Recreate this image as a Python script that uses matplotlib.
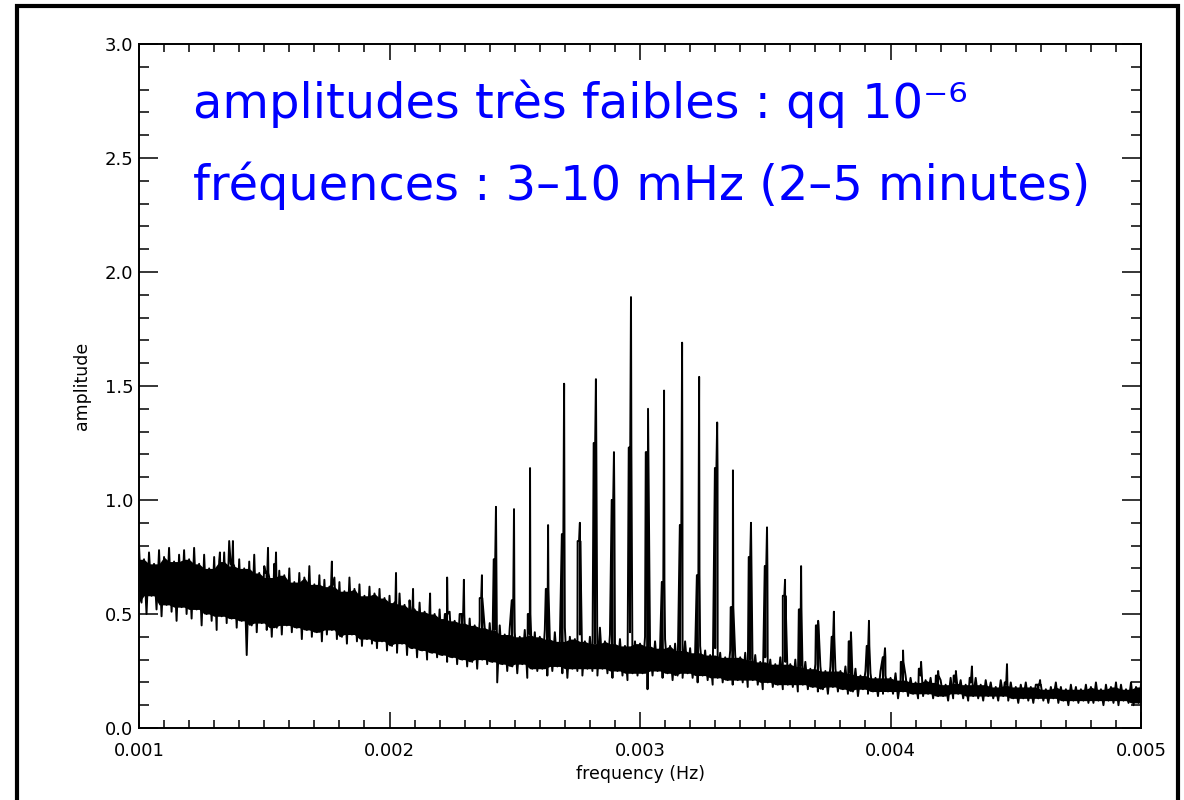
import numpy as np
import matplotlib.pyplot as plt
from matplotlib.patches import Rectangle
from matplotlib.ticker import MultipleLocator, FormatStrFormatter

# noise band of the spectrum, every 0.02 mHz (1.00 .. 5.00 mHz)
band_hi = [0.80, 0.74, 0.77, 0.72, 0.78, 0.75, 0.79, 0.73, 0.76, 0.78,
           0.74, 0.79, 0.72, 0.76, 0.70, 0.75, 0.73, 0.77, 0.82, 0.71,
           0.74, 0.70, 0.73, 0.76, 0.68, 0.71, 0.66, 0.72, 0.69, 0.67,
           0.70, 0.64, 0.68, 0.66, 0.71, 0.63, 0.67, 0.65, 0.62, 0.66,
           0.64, 0.60, 0.66, 0.61, 0.63, 0.58, 0.62, 0.59, 0.61, 0.57,
           0.58, 0.55, 0.59, 0.54, 0.56, 0.52, 0.55, 0.51, 0.53, 0.50,
           0.52, 0.48, 0.51, 0.47, 0.50, 0.46, 0.48, 0.45, 0.47, 0.44,
           0.46, 0.43, 0.45, 0.41, 0.44, 0.42, 0.40, 0.43, 0.41, 0.42,
           0.40, 0.43, 0.39, 0.42, 0.38, 0.44, 0.40, 0.39, 0.41, 0.38,
           0.40, 0.37, 0.44, 0.38, 0.41, 0.37, 0.39, 0.36, 0.42, 0.38,
           0.37, 0.40, 0.36, 0.38, 0.35, 0.39, 0.36, 0.37, 0.34, 0.38,
           0.35, 0.33, 0.36, 0.34, 0.32, 0.35, 0.33, 0.31, 0.34, 0.32,
           0.31, 0.33, 0.30, 0.32, 0.29, 0.31, 0.30, 0.28, 0.31, 0.29,
           0.28, 0.30, 0.27, 0.29, 0.26, 0.28, 0.27, 0.25, 0.27, 0.26,
           0.25, 0.27, 0.24, 0.26, 0.23, 0.25, 0.24, 0.22, 0.25, 0.23,
           0.22, 0.24, 0.21, 0.23, 0.22, 0.20, 0.23, 0.21, 0.22, 0.20,
           0.21, 0.19, 0.22, 0.20, 0.21, 0.19, 0.20, 0.22, 0.19, 0.21,
           0.20, 0.18, 0.21, 0.19, 0.20, 0.18, 0.19, 0.20, 0.18, 0.19,
           0.19, 0.17, 0.18, 0.20, 0.18, 0.17, 0.19, 0.18, 0.17, 0.19,
           0.18, 0.20, 0.17, 0.19, 0.18, 0.20, 0.19, 0.17, 0.20, 0.18,
           0.19]
band_lo = [0.55, 0.50, 0.58, 0.52, 0.49, 0.54, 0.51, 0.47, 0.53, 0.50,
           0.48, 0.52, 0.45, 0.50, 0.47, 0.43, 0.49, 0.46, 0.48, 0.44,
           0.47, 0.32, 0.45, 0.42, 0.46, 0.43, 0.40, 0.44, 0.41, 0.45,
           0.42, 0.44, 0.39, 0.43, 0.40, 0.42, 0.38, 0.41, 0.43, 0.39,
           0.40, 0.37, 0.41, 0.38, 0.36, 0.39, 0.37, 0.35, 0.38, 0.34,
           0.36, 0.33, 0.37, 0.32, 0.35, 0.31, 0.34, 0.30, 0.33, 0.31,
           0.32, 0.29, 0.31, 0.28, 0.30, 0.27, 0.29, 0.26, 0.30, 0.28,
           0.29, 0.20, 0.28, 0.25, 0.27, 0.24, 0.28, 0.22, 0.26, 0.25,
           0.26, 0.23, 0.25, 0.27, 0.24, 0.22, 0.26, 0.25, 0.23, 0.26,
           0.25, 0.23, 0.26, 0.24, 0.22, 0.25, 0.23, 0.21, 0.24, 0.23,
           0.24, 0.17, 0.23, 0.25, 0.22, 0.24, 0.21, 0.23, 0.22, 0.24,
           0.22, 0.20, 0.23, 0.21, 0.19, 0.22, 0.20, 0.21, 0.19, 0.21,
           0.20, 0.18, 0.21, 0.19, 0.17, 0.20, 0.18, 0.19, 0.17, 0.19,
           0.18, 0.16, 0.19, 0.17, 0.18, 0.16, 0.17, 0.15, 0.18, 0.16,
           0.17, 0.15, 0.16, 0.14, 0.17, 0.15, 0.16, 0.14, 0.15, 0.16,
           0.15, 0.13, 0.16, 0.14, 0.15, 0.13, 0.14, 0.15, 0.13, 0.14,
           0.14, 0.12, 0.13, 0.15, 0.13, 0.12, 0.14, 0.13, 0.12, 0.14,
           0.13, 0.12, 0.14, 0.12, 0.13, 0.11, 0.13, 0.12, 0.11, 0.13,
           0.12, 0.11, 0.13, 0.11, 0.12, 0.10, 0.12, 0.11, 0.12, 0.11,
           0.11, 0.12, 0.10, 0.12, 0.11, 0.10, 0.12, 0.11, 0.10, 0.11,
           0.11]

# p-mode peaks (mHz), their tip and the thick lower part
peak_f = [1.323, 1.375, 1.515, 1.547, 1.770,
          2.026, 2.094, 2.162, 2.230, 2.297, 2.369, 2.425, 2.497, 2.561, 2.633,
          2.697, 2.760, 2.824, 2.896, 2.964, 3.032, 3.096, 3.168, 3.236, 3.308,
          3.371, 3.443, 3.507, 3.579, 3.643, 3.711, 3.774, 3.842, 3.914, 3.978,
          4.050, 4.122, 4.190, 4.261, 4.325, 4.465, 4.597]
peak_amp = [0.77, 0.82, 0.79, 0.77, 0.73,
            0.68, 0.61, 0.59, 0.66, 0.65, 0.67, 0.97, 0.96, 1.14, 0.89,
            1.51, 0.90, 1.53, 1.21, 1.89, 1.40, 1.48, 1.69, 1.54, 1.34,
            1.13, 0.90, 0.88, 0.65, 0.71, 0.47, 0.51, 0.42, 0.47, 0.35,
            0.34, 0.29, 0.25, 0.25, 0.27, 0.28, 0.21]
peak_sh = [0.70, 0.72, 0.68, 0.66, 0.62,
           0.52, 0.50, 0.48, 0.50, 0.50, 0.57, 0.74, 0.56, 0.50, 0.61,
           0.85, 0.82, 1.25, 1.00, 1.23, 1.21, 0.64, 0.89, 0.67, 1.14,
           0.53, 0.75, 0.71, 0.58, 0.52, 0.45, 0.40, 0.38, 0.36, 0.31,
           0.29, 0.26, 0.23, 0.23, 0.22, 0.20, 0.19]

f_band = np.linspace(1.0, 5.0, len(band_hi))
hi = np.array(band_hi)
lo = np.array(band_lo)
pf = np.array(peak_f)
ph = np.array(peak_amp)
ps = np.array(peak_sh)

# dense core of the band (the line spikes out of it)
hp = np.pad(hi, 1, mode='edge')
lp = np.pad(lo, 1, mode='edge')
core_hi = np.minimum(np.minimum(hp[:-2], hp[1:-1]), hp[2:])
core_lo = np.maximum(np.maximum(lp[:-2], lp[1:-1]), lp[2:])

freq = np.concatenate([f_band, f_band + 0.01, pf,
                       pf - 0.009, pf - 0.006, pf - 0.003, pf + 0.0015])
amp = np.concatenate([hi, lo, ph, ps, ps, ps, ps])
order = np.argsort(freq)
freq = freq[order] * 1e-3
amp = amp[order]

fig = plt.figure(figsize=(11.84, 8.0), dpi=100)
ax = fig.add_axes([0.1174, 0.09, 0.8463, 0.855])

ax.fill_between(f_band * 1e-3, core_lo, np.maximum(core_hi, core_lo), color='black', lw=0)
ax.plot(freq, amp, color='black', lw=1.4)

ax.set_xlim(0.001, 0.005)
ax.set_ylim(0, 3.0)
ax.xaxis.set_major_locator(MultipleLocator(0.001))
ax.xaxis.set_minor_locator(MultipleLocator(0.0001))
ax.yaxis.set_major_locator(MultipleLocator(0.5))
ax.yaxis.set_minor_locator(MultipleLocator(0.1))
ax.xaxis.set_major_formatter(FormatStrFormatter('%.3f'))
ax.yaxis.set_major_formatter(FormatStrFormatter('%.1f'))

ax.tick_params(which='both', direction='in', top=True, right=True, width=1.1, labelsize=13)
ax.tick_params(axis='x', which='major', length=11.5, pad=10)
ax.tick_params(axis='x', which='minor', length=5.5)
ax.tick_params(axis='y', which='major', length=14, pad=4)
ax.tick_params(axis='y', which='minor', length=7)
for s in ax.spines.values():
    s.set_linewidth(1.4)

ax.set_xlabel('frequency (Hz)', fontsize=12.5, labelpad=4)
ax.set_ylabel('amplitude', fontsize=12.5, labelpad=10)

ax.text(0.054, 0.892, 'amplitudes très faibles : qq 10⁻⁶', transform=ax.transAxes,
        color='#0000ff', fontsize=34.5, va='baseline', ha='left')
ax.text(0.054, 0.772, 'fréquences : 3–10 mHz (2–5 minutes)', transform=ax.transAxes,
        color='#0000ff', fontsize=34.5, va='baseline', ha='left')

# outer black frame of the slide
fig.add_artist(Rectangle((0.0144, -0.02), 0.9805, 1.0125, transform=fig.transFigure,
                         fill=False, edgecolor='black', lw=3))

fig.savefig('out.png', dpi=100)
